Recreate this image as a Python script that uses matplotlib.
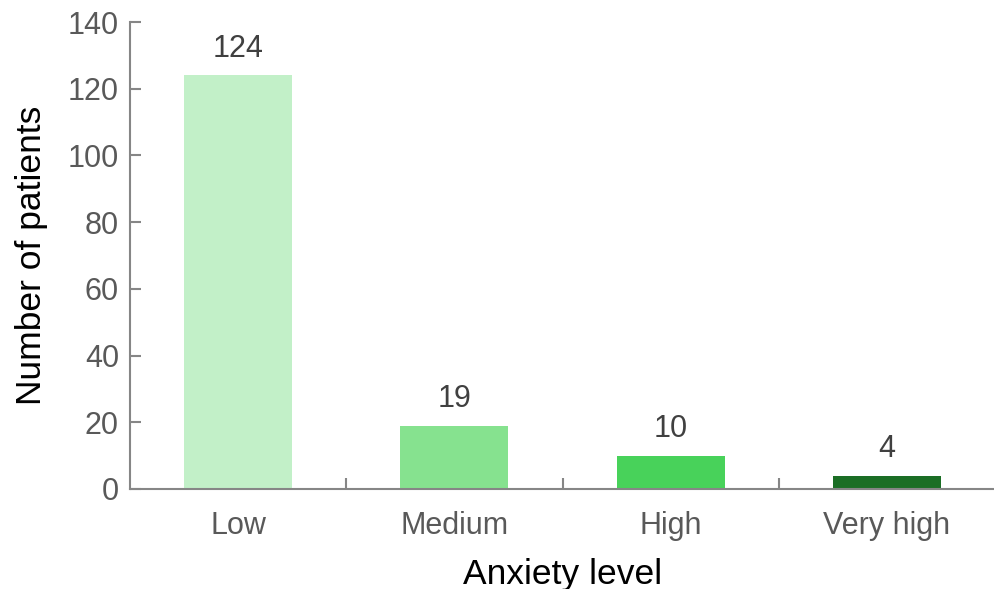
import matplotlib
matplotlib.use("Agg")
import matplotlib.pyplot as plt

categories = ["Low", "Medium", "High", "Very high"]
patients = [124, 19, 10, 4]
bar_colors = ["#C2F0C8", "#86E28F", "#48D25A", "#1B6E25"]

plt.rcParams["font.family"] = ["Liberation Sans", "DejaVu Sans"]

fig = plt.figure(figsize=(9.95, 5.89), dpi=100)
ax = fig.add_axes([130 / 995, 1 - 489 / 589, 1 - 130 / 995, (489 - 22) / 589])

x = list(range(len(categories)))
bars = ax.bar(x, patients, width=0.5, color=bar_colors, zorder=2)
for xi, v in zip(x, patients):
    ax.annotate(str(v), (xi, v), xytext=(0, 8.5), textcoords="offset points",
                ha="center", va="bottom", fontsize=22, color="#404040")

ax.set_xlim(-0.5, len(categories) - 0.5)
ax.set_ylim(0, 140)
ax.set_yticks(range(0, 141, 20))
ax.set_xticks(x)
ax.set_xticklabels(categories)
ax.set_xticks([i + 0.5 for i in x[:-1]], minor=True)

spine_color = "#868686"
for side in ("top", "right"):
    ax.spines[side].set_visible(False)
for side in ("left", "bottom"):
    ax.spines[side].set_color(spine_color)
    ax.spines[side].set_linewidth(1.5)

ax.tick_params(axis="y", direction="in", length=8, width=1.5, color=spine_color,
               labelsize=22, labelcolor="#595959", pad=8)
ax.tick_params(axis="x", which="major", length=0, labelsize=22,
               labelcolor="#595959", pad=16)
ax.tick_params(axis="x", which="minor", direction="in", length=8, width=1.5,
               color=spine_color)

ax.set_xlabel("Anxiety level", fontsize=25.5, color="black", labelpad=12)
ax.set_ylabel("Number of patients", fontsize=25.5, color="black", labelpad=14)

fig.savefig("out.png", dpi=100)
